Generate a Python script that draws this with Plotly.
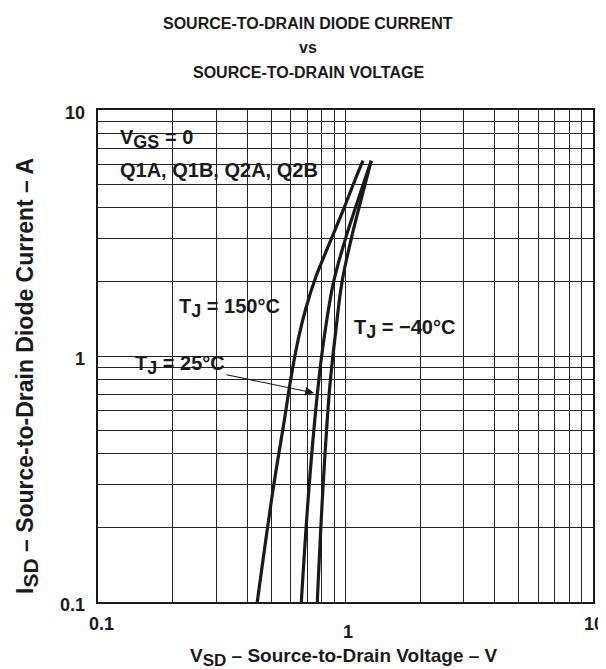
import plotly.graph_objects as go
import math

# ---- data ----
# T_J = 150 C
v_150 = [0.440, 0.511, 0.568, 0.602, 0.646, 0.692, 0.756, 0.874, 0.991, 1.087, 1.177]
i_150 = [0.10, 0.291, 0.560, 0.814, 1.184, 1.567, 2.075, 2.97, 4.04, 5.13, 6.22]
# T_J = 25 C
v_25 = [0.663, 0.712, 0.774, 0.822, 0.895, 1.000, 1.100, 1.270]
i_25 = [0.10, 0.291, 0.741, 1.21, 2.00, 3.00, 4.04, 6.22]
# T_J = -40 C
v_m40 = [0.769, 0.811, 0.863, 0.909, 0.968, 1.055, 1.136, 1.270]
i_m40 = [0.10, 0.291, 0.741, 1.21, 2.00, 3.00, 4.04, 6.22]

x_ticks = [0.1, 1, 10]
x_tick_text = ["0.1", "1", "10"]
y_ticks = [0.1, 1, 10]
y_tick_text = ["0.1", "1", "10"]

grid_vals = [k * 10 ** e for e in (-1, 0) for k in range(1, 10)] + [10]

W, H = 606, 669
L, R, T, B = 90, 21, 102, 75
PW, PH = W - L - R, H - T - B
FONT = "Liberation Sans"


def px(xp):
    return (xp - L) / PW


def py(yp):
    return (H - B - yp) / PH


def sub(s, size):
    return "<sub><span style='font-size:%dpx'>%s</span></sub>" % (size, s)


fig = go.Figure()
for v, i in ((v_150, i_150), (v_25, i_25), (v_m40, i_m40)):
    fig.add_trace(go.Scatter(x=v, y=i, mode="lines",
                             line=dict(color="#1a1a1a", width=3.2, shape="spline", smoothing=1.0),
                             hoverinfo="skip", showlegend=False))

axis_common = dict(type="log", showgrid=True, gridcolor="#222222", gridwidth=1.2,
                   tickmode="array", tickvals=grid_vals, showticklabels=False,
                   ticks="", showline=True, linecolor="#1a1a1a", linewidth=2.2,
                   mirror=True, zeroline=False)
fig.update_xaxes(range=[-1, 1], **axis_common)
fig.update_yaxes(range=[-1, 1], **axis_common)

shapes = []
for (x0, x1, y0, y1) in [(97, 327, 113, 197), (158, 288, 285, 317),
                         (115, 233, 345, 373), (338, 464, 305, 337)]:
    shapes.append(dict(type="rect", xref="paper", yref="paper",
                       x0=px(x0), x1=px(x1), y0=py(y1), y1=py(y0),
                       fillcolor="white", line=dict(width=0), layer="between"))

bold = dict(family=FONT, color="#1a1a1a", weight="bold")
ann = []


def text(t, x, y, size, xanchor="center", yanchor="middle", **kw):
    ann.append(dict(text=t, xref="paper", yref="paper", x=px(x), y=py(y),
                    xanchor=xanchor, yanchor=yanchor, showarrow=False,
                    font=dict(size=size, **bold), **kw))


# title
text("SOURCE-TO-DRAIN DIODE CURRENT", 300, 15, 16)
text("vs", 300, 39, 16)
text("SOURCE-TO-DRAIN VOLTAGE", 300, 64, 16)

# legend block
text("V" + sub("GS", 18) + " = 0", 110, 131, 20, xanchor="left")
text("Q1A, Q1B, Q2A, Q2B", 110, 162, 20, xanchor="left")

# temperature labels
text("T" + sub("J", 18) + " = 150°C", 221, 300, 20)
text("T" + sub("J", 18) + " = −40°C", 396, 321, 20)
ann.append(dict(text="T" + sub("J", 18) + " = 25°C", xref="x", yref="y",
                x=math.log10(0.746), y=math.log10(0.707),
                ax=172 - 306, ay=357 - 385, showarrow=True,
                arrowhead=2, arrowsize=1.6, arrowwidth=1.1, arrowcolor="#1a1a1a",
                font=dict(size=20, **bold)))

# tick labels
for v, t in zip(y_ticks, y_tick_text):
    ann.append(dict(text=t, xref="paper", yref="y", x=px(79), y=math.log10(v),
                    xanchor="right", yanchor="middle", showarrow=False,
                    yshift=-3, font=dict(size=18, **bold)))
for v, t in zip(x_ticks, x_tick_text):
    ys = {0.1: 616, 1: 624, 10: 616}[v]
    xs = {0.1: 3, 1: 2, 10: 1}[v]
    ann.append(dict(text=t, xref="paper", yref="paper",
                    x=(math.log10(v) + 1) / 2, y=py(ys),
                    xanchor="center", yanchor="middle", showarrow=False, xshift=xs,
                    font=dict(size=18, **bold)))

# axis titles
text("V" + sub("SD", 17) + " – Source-to-Drain Voltage – V", 336, 649, 19)
ann.append(dict(text="I" + sub("SD", 21) + " – Source-to-Drain Diode Current – A",
                xref="paper", yref="paper", x=px(19), y=py(368), textangle=-90,
                xanchor="center", yanchor="middle", showarrow=False,
                font=dict(size=23, **bold)))

fig.update_layout(width=W, height=H, margin=dict(l=L, r=R, t=T, b=B),
                  paper_bgcolor="white", plot_bgcolor="white",
                  shapes=shapes, annotations=ann, showlegend=False)

fig.write_html("out.html")
